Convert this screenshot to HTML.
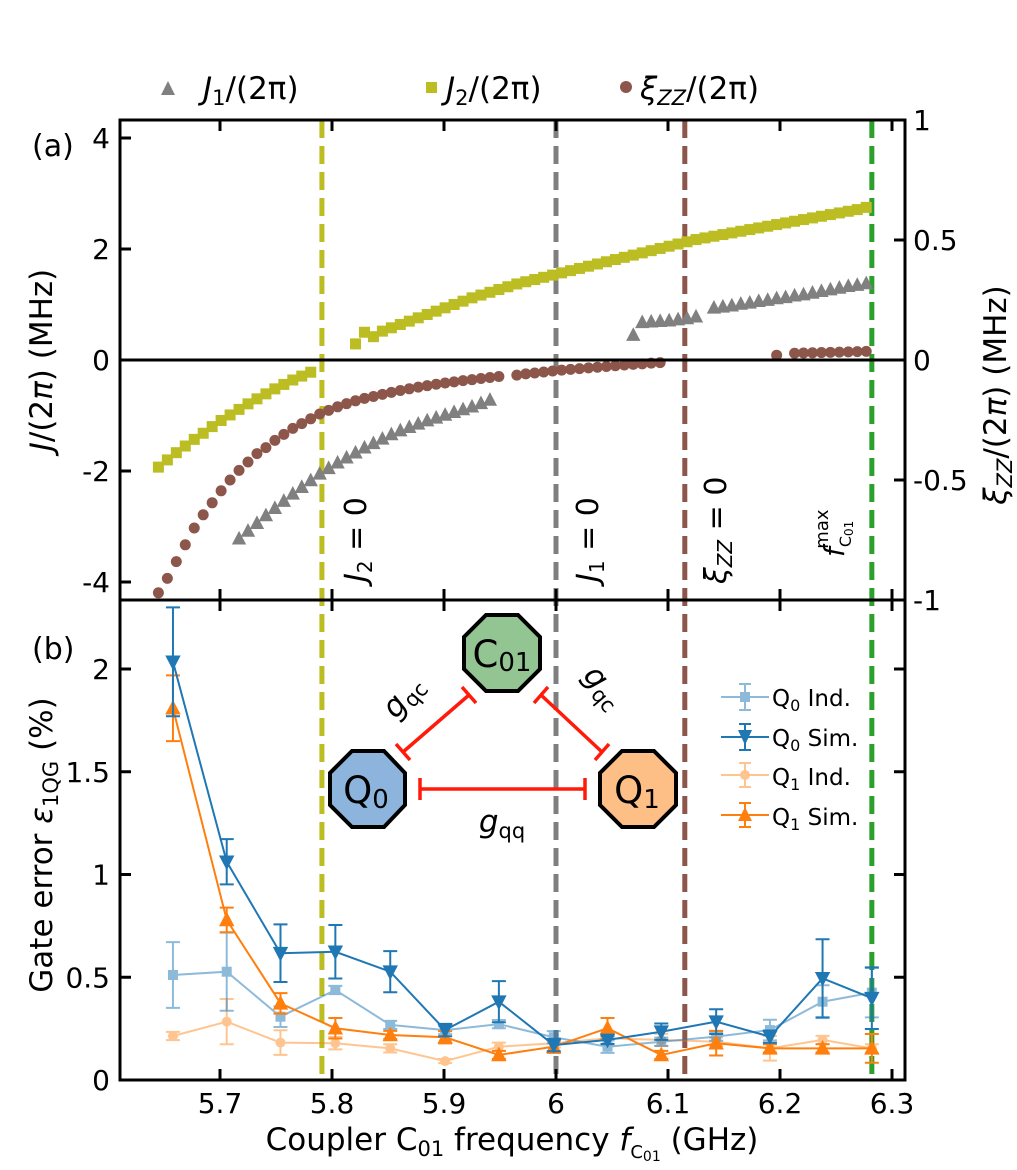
<!DOCTYPE html>
<html><head><meta charset="utf-8">
<style>
html,body{margin:0;padding:0;background:#fff;}
svg{display:block;font-family:"DejaVu Sans","Liberation Sans",sans-serif;}
</style></head>
<body>
<svg id="chart" width="1017" height="1170" viewBox="0 0 1017 1170" xmlns="http://www.w3.org/2000/svg">
<g id="layer"></g>
</svg>
<script>
// ---------- data ----------
const N = null;
const fGrid = [
5.645,5.653,5.661,5.669,5.677,5.685,5.693,5.701,5.709,5.717,
5.725,5.733,5.741,5.749,5.757,5.765,5.773,5.781,5.789,5.797,
5.805,5.813,5.821,5.829,5.837,5.845,5.853,5.861,5.869,5.877,
5.885,5.893,5.901,5.909,5.917,5.925,5.933,5.941,5.949,5.957,
5.965,5.973,5.981,5.989,5.997,6.005,6.013,6.021,6.029,6.037,
6.045,6.053,6.061,6.069,6.077,6.085,6.093,6.101,6.109,6.117,
6.125,6.133,6.141,6.149,6.157,6.165,6.173,6.181,6.189,6.197,
6.205,6.213,6.221,6.229,6.237,6.245,6.253,6.261,6.269,6.277];
const j2Vals = [
-1.93,-1.80,-1.67,-1.55,-1.43,-1.32,-1.20,-1.09,-0.99,-0.89,
-0.79,-0.70,-0.61,-0.52,-0.44,-0.36,-0.29,-0.22,N,N,
N,N,0.29,0.50,0.42,0.52,0.58,0.64,0.70,0.76,
0.82,0.88,0.94,1.00,1.06,1.12,1.17,1.22,1.27,1.32,
1.37,1.41,1.45,1.49,1.53,1.57,1.61,1.65,1.69,1.73,
1.77,1.81,1.85,1.89,1.93,1.97,2.01,2.05,2.09,2.13,
2.17,2.20,2.23,2.26,2.29,2.32,2.35,2.38,2.41,2.44,
2.47,2.50,2.53,2.56,2.59,2.62,2.65,2.68,2.71,2.75];
const j1Vals = [
N,N,N,N,N,N,N,N,N,-3.22,
-3.08,-2.94,-2.80,-2.67,-2.54,-2.41,-2.29,-2.17,-2.05,-1.95,
-1.85,-1.76,-1.67,-1.58,-1.50,-1.42,-1.34,-1.27,-1.21,-1.15,
-1.09,-1.04,-0.99,-0.94,-0.89,-0.84,-0.78,-0.72,N,N,
N,N,N,N,N,N,N,N,N,N,
N,N,N,0.45,0.68,0.69,0.70,0.71,0.73,0.75,
0.78,N,0.94,0.96,0.98,1.01,1.03,1.06,1.08,1.11,
1.13,1.16,1.18,1.21,1.24,1.27,1.30,1.33,1.35,1.38];
const zzVals = [
-0.97,-0.91,-0.84,-0.77,-0.70,-0.645,-0.595,-0.545,-0.50,-0.46,
-0.425,-0.39,-0.365,-0.335,-0.31,-0.285,-0.265,-0.245,-0.225,-0.21,
-0.195,-0.182,-0.170,-0.160,-0.152,-0.143,-0.135,-0.127,-0.120,-0.113,
-0.107,-0.101,-0.096,-0.091,-0.086,-0.082,-0.077,-0.073,-0.069,N,
-0.063,-0.058,-0.054,-0.050,-0.046,-0.042,-0.039,-0.036,-0.033,-0.030,
-0.027,-0.024,-0.021,-0.018,-0.016,-0.013,-0.011,N,N,N,
N,N,N,N,N,N,N,N,N,0.020,
N,0.028,0.029,0.030,0.031,0.032,0.033,0.034,0.035,0.036];

const fB = [5.658,5.706,5.754,5.803,5.852,5.901,5.949,5.998,6.046,6.094,6.143,6.191,6.238,6.282];
const q0Sim = [2.035,1.062,0.617,0.624,0.527,0.243,0.381,0.170,0.195,0.235,0.284,0.211,0.495,0.398];
const q0SimErr = [0.265,0.11,0.14,0.13,0.10,0.03,0.10,0.03,0.02,0.04,0.06,0.03,0.19,0.15];
const q1Sim = [1.809,0.779,0.373,0.252,0.219,0.208,0.122,0.162,0.252,0.122,0.179,0.154,0.154,0.154];
const q1SimErr = [0.16,0.06,0.05,0.05,0.02,0.03,0.02,0.03,0.05,0.02,0.06,0.02,0.02,0.07];
const q0Ind = [0.511,0.527,0.308,0.438,0.268,0.243,0.272,0.208,0.162,0.186,0.211,0.243,0.381,0.425];
const q0IndErr = [0.16,0.19,0.05,0.02,0.02,0.02,0.02,0.03,0.03,0.02,0.02,0.05,0.08,0.12];
const q1Ind = [0.214,0.284,0.182,0.179,0.154,0.092,0.162,0.179,0.203,0.195,0.186,0.154,0.195,0.154];
const q1IndErr = [0.02,0.11,0.06,0.03,0.02,0.01,0.02,0.02,0.03,0.03,0.02,0.06,0.02,0.02];

const xTicks = [5.7,5.8,5.9,6.0,6.1,6.2,6.3];
const xTickLabels = ["5.7","5.8","5.9","6","6.1","6.2","6.3"];
const yaTicks = [4,2,0,-2,-4];
const yaTickLabels = ["4","2","0","-2","-4"];
const yaRTicks = [1,0.5,0,-0.5,-1];
const yaRTickLabels = ["1","0.5","0","-0.5","-1"];
const ybTicks = [0,0.5,1,1.5,2];
const ybTickLabels = ["0","0.5","1","1.5","2"];
const vLines = [5.791,6.0,6.115,6.282];

// ---------- scales ----------
const L=120,R=905,TA=120,MID=600,BB=1080;
const xS = f => 556 + (f-6)*1120;
const yA = v => 360 - v*55.5;
const yAR = v => 360 - v*240;
const yB = v => 1080 - v*205.5;

const NS="http://www.w3.org/2000/svg";
const layer=document.getElementById('layer');
function mk(tag, attrs, parent){
  const e=document.createElementNS(NS,tag);
  for(const k in attrs) e.setAttribute(k,attrs[k]);
  (parent||layer).appendChild(e); return e;
}
function grp(name){
  const g=mk('g',{});
  
  
  return g;
}
function marker(shape,x,y,s,fill,parent,op){
  let e;
  if(shape==='sq') e=mk('rect',{x:x-s/2,y:y-s/2,width:s,height:s,fill:fill},parent);
  else if(shape==='ci') e=mk('circle',{cx:x,cy:y,r:s/2,fill:fill},parent);
  else if(shape==='tu') e=mk('polygon',{points:`${x},${y-s*0.6} ${x-s*0.55},${y+s*0.45} ${x+s*0.55},${y+s*0.45}`,fill:fill},parent);
  else e=mk('polygon',{points:`${x},${y+s*0.6} ${x-s*0.55},${y-s*0.45} ${x+s*0.55},${y-s*0.45}`,fill:fill},parent);
  if(op) e.setAttribute('opacity',op);
  return e;
}

// ---------- vertical dashed lines ----------
const vlColors=["#bcbd22","#7f7f7f","#8c564b","#2ca02c"];
const vlNames=["j2-zero-line","j1-zero-line","zz-zero-line","fmax-line"];
vLines.forEach((f,i)=>{
  const l=mk('line',{x1:xS(f),x2:xS(f),y1:TA,y2:BB,stroke:vlColors[i],'stroke-width':5,'stroke-dasharray':'18,8'});
  
  
});

// ---------- panel a series ----------
const gJ2=grp('series-j2');
fGrid.forEach((f,i)=>{ if(j2Vals[i]!==null){ const m=marker('sq',xS(f),yA(j2Vals[i]),11,'#bcbd22',gJ2);   }});
const gJ1=grp('series-j1');
fGrid.forEach((f,i)=>{ if(j1Vals[i]!==null){ const m=marker('tu',xS(f),yA(j1Vals[i]),13,'#808080',gJ1);   }});
const gZZ=grp('series-zz');
fGrid.forEach((f,i)=>{ if(zzVals[i]!==null){ const m=marker('ci',xS(f),yAR(zzVals[i]),11,'#8c564b',gZZ);   }});

// zero line
const z=mk('line',{x1:L,x2:R,y1:360,y2:360,stroke:'#000','stroke-width':3});



// ---------- panel b series ----------
function seriesB(name,vals,errs,color,shape,size,op,lw){
  const g=grp(name);
  if(op) g.setAttribute('opacity',op);
  const pts=fB.map((f,i)=>`${xS(f)},${yB(vals[i])}`).join(' ');
  mk('polyline',{points:pts,fill:'none',stroke:color,'stroke-width':lw},g);
  fB.forEach((f,i)=>{
    const x=xS(f),y1=yB(vals[i]+errs[i]),y2=yB(vals[i]-errs[i]);
    const eb=mk('path',{d:`M${x},${y1}V${y2}M${x-7},${y1}H${x+7}M${x-7},${y2}H${x+7}`,stroke:color,'stroke-width':2,fill:'none'},g);
    
    
    const m=marker(shape,x,yB(vals[i]),size,color,g);
    
    
  });
}
seriesB('series-q1-ind',q1Ind,q1IndErr,'#ff7f0e','ci',10,0.45,2);
seriesB('series-q0-ind',q0Ind,q0IndErr,'#1f77b4','sq',10,0.5,2);
seriesB('series-q1-sim',q1Sim,q1SimErr,'#ff7f0e','tu',14,null,2);
seriesB('series-q0-sim',q0Sim,q0SimErr,'#1f77b4','td',14,null,2);

// ---------- axes frames & ticks ----------
const ax=grp('axes');
mk('rect',{x:L,y:TA,width:R-L,height:BB-TA,fill:'none',stroke:'#000','stroke-width':3},ax);
mk('line',{x1:L,x2:R,y1:MID,y2:MID,stroke:'#000','stroke-width':3},ax);
xTicks.forEach((f,i)=>{
  const x=xS(f);
  mk('line',{x1:x,x2:x,y1:BB,y2:BB-11,stroke:'#000','stroke-width':3},ax);
  mk('line',{x1:x,x2:x,y1:MID,y2:MID-11,stroke:'#000','stroke-width':3},ax);
  mk('line',{x1:x,x2:x,y1:MID,y2:MID+11,stroke:'#000','stroke-width':3},ax);
  mk('line',{x1:x,x2:x,y1:TA,y2:TA+11,stroke:'#000','stroke-width':3},ax);
  const t=mk('text',{x:x,y:1113,'font-size':28,'text-anchor':'middle'},ax); t.textContent=xTickLabels[i];
   
});
yaTicks.forEach((v,i)=>{
  const y=yA(v);
  mk('line',{x1:L,x2:L+11,y1:y,y2:y,stroke:'#000','stroke-width':3},ax);
  const t=mk('text',{x:110,y:y+10,'font-size':28,'text-anchor':'end'},ax); t.textContent=yaTickLabels[i];
   
});
yaRTicks.forEach((v,i)=>{
  const y=yAR(v);
  mk('line',{x1:R,x2:R-11,y1:y,y2:y,stroke:'#000','stroke-width':3},ax);
  const t=mk('text',{x:913,y:y+10,'font-size':28,'text-anchor':'start'},ax); t.textContent=yaRTickLabels[i];
   
});
ybTicks.forEach((v,i)=>{
  const y=yB(v);
  mk('line',{x1:L,x2:L+11,y1:y,y2:y,stroke:'#000','stroke-width':3},ax);
  mk('line',{x1:R,x2:R-11,y1:y,y2:y,stroke:'#000','stroke-width':3},ax);
  const t=mk('text',{x:110,y:y+10,'font-size':28,'text-anchor':'end'},ax); t.textContent=ybTickLabels[i];
   
});
</script>

<!-- static labels -->
<svg width="1017" height="1170" style="position:absolute;left:0;top:0;font-family:'DejaVu Sans','Liberation Sans',sans-serif" xmlns="http://www.w3.org/2000/svg">
  <g font-size="31">
    <polygon points="168,81 161,95 175,95" fill="#808080"/>
    <text x="203" y="99"><tspan font-style="italic">J</tspan><tspan font-size="21" dy="6">1</tspan><tspan dy="-6">/(2π)</tspan></text>
    <rect x="426" y="82" width="11" height="11" fill="#bcbd22"/>
    <text x="446" y="99"><tspan font-style="italic">J</tspan><tspan font-size="21" dy="6">2</tspan><tspan dy="-6">/(2π)</tspan></text>
    <circle cx="626" cy="87" r="6" fill="#8c564b"/>
    <text x="640" y="99"><tspan font-style="italic">ξ</tspan><tspan font-size="21" dy="6" font-style="italic">ZZ</tspan><tspan dy="-6">/(2π)</tspan></text>
  </g>
  <text x="32" y="156" font-size="30">(a)</text>
  <text x="32" y="659" font-size="30">(b)</text>
  <text transform="translate(52,360) rotate(-90)" text-anchor="middle" font-size="31"><tspan font-style="italic">J</tspan>/(2<tspan font-style="italic">π</tspan>) (MHz)</text>
  <text transform="translate(1006,395) rotate(-90)" text-anchor="middle" font-size="31"><tspan font-style="italic">ξ</tspan><tspan font-size="21" dy="6" font-style="italic">ZZ</tspan><tspan dy="-6">/(2</tspan><tspan font-style="italic">π</tspan>) (MHz)</text>
  <text transform="translate(52,845) rotate(-90)" text-anchor="middle" font-size="31">Gate error <tspan font-style="italic">ε</tspan><tspan font-size="21" dy="6">1QG</tspan><tspan dy="-6"> (%)</tspan></text>
  <text x="512" y="1150" text-anchor="middle" font-size="31">Coupler C<tspan font-size="21" dy="6">01</tspan><tspan dy="-6"> frequency </tspan><tspan font-style="italic">f</tspan><tspan font-size="18" dy="8">C</tspan><tspan font-size="14" dy="3">01</tspan><tspan dy="-11"> (GHz)</tspan></text>

  <text transform="translate(366,582) rotate(-90)" font-size="30"><tspan font-style="italic">J</tspan><tspan font-size="20" dy="6">2</tspan><tspan dy="-6"> = 0</tspan></text>
  <text transform="translate(598,582) rotate(-90)" font-size="30"><tspan font-style="italic">J</tspan><tspan font-size="20" dy="6">1</tspan><tspan dy="-6"> = 0</tspan></text>
  <text transform="translate(726,584) rotate(-90)" font-size="30"><tspan font-style="italic">ξ</tspan><tspan font-size="20" dy="6" font-style="italic">ZZ</tspan><tspan dy="-6"> = 0</tspan></text>
  <text transform="translate(844,557) rotate(-90)" font-size="28"><tspan font-style="italic">f</tspan><tspan font-size="16" dy="7">C</tspan><tspan font-size="12" dy="2">01</tspan><tspan font-size="18" dx="-28" dy="-25">max</tspan></text>

  <g>
    <g stroke="#ff1a0a" stroke-width="3.5" fill="none">
      <path d="M420,789H585M420,778V800M585,778V800"/>
      <path d="M403,752L469,695M396,744L410,760M462,687L476,703"/>
      <path d="M541,695L602,752M534,703L548,687M595,760L609,744"/>
    </g>
    <polygon points="486,615 518,615 540,637 540,669 518,691 486,691 464,669 464,637" fill="#93c593" stroke="#000" stroke-width="4"/>
    <text x="502" y="667" text-anchor="middle" font-size="37">C<tspan font-size="26" dy="4">01</tspan></text>
    <polygon points="352,751 384,751 405,773 405,805 384,827 352,827 330,805 330,773" fill="#8cb4dc" stroke="#000" stroke-width="4"/>
    <text x="366" y="803" text-anchor="middle" font-size="37">Q<tspan font-size="26" dy="5">0</tspan></text>
    <polygon points="622,751 654,751 676,773 676,805 654,827 622,827 600,805 600,773" fill="#fdbf86" stroke="#000" stroke-width="4"/>
    <text x="637" y="803" text-anchor="middle" font-size="37">Q<tspan font-size="26" dy="5">1</tspan></text>
    <text x="502" y="832" text-anchor="middle" font-size="31"><tspan font-style="italic">g</tspan><tspan font-size="21" dy="6">qq</tspan></text>
    <text transform="translate(396,720) rotate(-50)" font-size="31"><tspan font-style="italic">g</tspan><tspan font-size="21" dy="6">qc</tspan></text>
    <text transform="translate(582,676) rotate(50)" font-size="31"><tspan font-style="italic">g</tspan><tspan font-size="21" dy="6">qc</tspan></text>
  </g>

  <g font-size="23">
    <g opacity="0.5" stroke="#1f77b4" stroke-width="2">
      <path d="M721,697H769M745,684V710M739,684H751M739,710H751"/><rect x="740" y="692" width="10" height="10" fill="#1f77b4" stroke="none"/>
    </g>
    <text x="772" y="706">Q<tspan font-size="16" dy="5">0</tspan><tspan dy="-5"> Ind.</tspan></text>
    <g stroke="#1f77b4" stroke-width="2">
      <path d="M721,737H769M745,724V750M739,724H751M739,750H751"/><polygon points="745,745 738,730 752,730" fill="#1f77b4" stroke="none"/>
    </g>
    <text x="772" y="746">Q<tspan font-size="16" dy="5">0</tspan><tspan dy="-5"> Sim.</tspan></text>
    <g opacity="0.45" stroke="#ff7f0e" stroke-width="2">
      <path d="M721,775H769M745,763V787M739,763H751M739,787H751"/><circle cx="745" cy="775" r="5" fill="#ff7f0e" stroke="none"/>
    </g>
    <text x="772" y="785">Q<tspan font-size="16" dy="5">1</tspan><tspan dy="-5"> Ind.</tspan></text>
    <g stroke="#ff7f0e" stroke-width="2">
      <path d="M721,815H769M745,803V827M739,803H751M739,827H751"/><polygon points="745,807 738,821 752,821" fill="#ff7f0e" stroke="none"/>
    </g>
    <text x="772" y="825">Q<tspan font-size="16" dy="5">1</tspan><tspan dy="-5"> Sim.</tspan></text>
  </g>
</svg>
</body></html>
